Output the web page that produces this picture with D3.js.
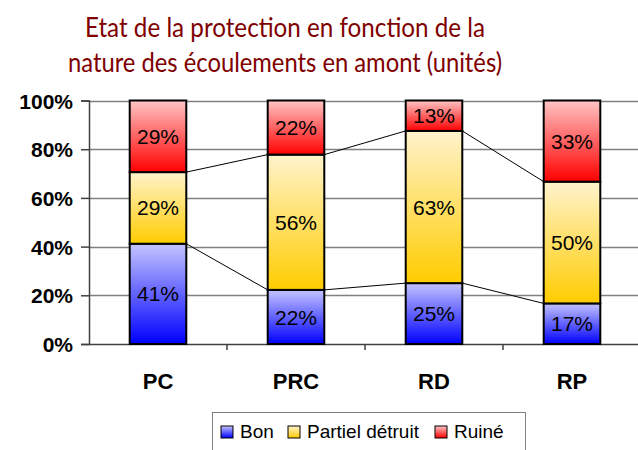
<!DOCTYPE html>
<html>
<head>
<meta charset="utf-8">
<script src="https://cdn.jsdelivr.net/npm/d3@7"></script>
<style>
  body { margin: 0; background: #fff; }
  svg { display: block; font-family: "Liberation Sans", Arial, sans-serif; }
</style>
</head>
<body>
<svg id="chart" width="638" height="450"></svg>
<script>
// data (unités)
var categories = ['PC', 'PRC', 'RD', 'RP'];
var seriesNames = ['Bon', 'Partiel détruit', 'Ruiné'];
var bon = [7, 2, 2, 1];
var partiel = [5, 5, 5, 3];
var ruine = [5, 2, 1, 2];
var yTicks = [0, 0.2, 0.4, 0.6, 0.8, 1];
var titleLines = ['Etat de la protection en fonction de la', 'nature des écoulements en amont (unités)'];

var colors = {
    'Bon': ['#c4c4ff', '#0000ff'],
    'Partiel détruit': ['#fff3cc', '#ffcc00'],
    'Ruiné': ['#ffc4c4', '#ff0000']
};

var rows = categories.map(function (c, i) {
    return { cat: c, 'Bon': bon[i], 'Partiel détruit': partiel[i], 'Ruiné': ruine[i] };
});

var svg = d3.select('#chart');
var margin = { top: 100.5, left: 89, bottom: 344, right: 641 };

var x = d3.scaleBand().domain(categories).range([margin.left, margin.right]);
var y = d3.scaleLinear().domain([0, 1]).range([margin.bottom, margin.top]);
var barW = x.bandwidth() * 0.41;

var stack = d3.stack().keys(seriesNames).offset(d3.stackOffsetExpand);
var layers = stack(rows);

// gradients
var defs = svg.append('defs');
seriesNames.forEach(function (s, i) {
    var g = defs.append('linearGradient')
        .attr('id', 'grad' + i)
        .attr('x1', 0).attr('y1', 0).attr('x2', 0).attr('y2', 1);
    g.append('stop').attr('offset', '0%').attr('stop-color', colors[s][0]);
    g.append('stop').attr('offset', '100%').attr('stop-color', colors[s][1]);
});

// title
svg.append('g').selectAll('text')
    .data(titleLines)
    .enter().append('text')
    .attr('x', 285)
    .attr('y', function (d, i) { return 37 + i * 35; })
    .attr('text-anchor', 'middle')
    .attr('fill', '#800000')
    .style('font-family', 'Lato, "Open Sans", sans-serif')
    .style('font-size', '26px')
    .attr('textLength', function (d, i) { return i === 0 ? 400 : 434; })
    .attr('lengthAdjust', 'spacingAndGlyphs')
    .text(function (d) { return d; });

// gridlines
svg.append('g').selectAll('line')
    .data(yTicks.slice(1))
    .enter().append('line')
    .attr('x1', margin.left).attr('x2', margin.right)
    .attr('y1', function (d) { return Math.round(y(d)) + 0.5; })
    .attr('y2', function (d) { return Math.round(y(d)) + 0.5; })
    .attr('stroke', '#808080')
    .attr('stroke-width', 1.5);

// y axis
var yAxis = svg.append('g')
    .attr('transform', 'translate(' + margin.left + ',0)')
    .call(d3.axisLeft(y).tickValues(yTicks).tickFormat(d3.format('.0%')).tickSize(8).tickPadding(8));
yAxis.select('.domain').attr('stroke', '#404040').attr('stroke-width', 1.5);
yAxis.selectAll('.tick line').attr('stroke', '#404040').attr('stroke-width', 1.5);
yAxis.selectAll('text')
    .style('font-size', '21px')
    .style('font-weight', 'bold')
    .attr('fill', '#000')
    .attr('dy', '0.36em');

// x axis
var xAxis = svg.append('g')
    .attr('transform', 'translate(0,' + margin.bottom + ')')
    .call(d3.axisBottom(x).tickSize(0).tickPadding(29));
xAxis.select('.domain').attr('stroke', '#404040').attr('stroke-width', 1.5);
xAxis.selectAll('text')
    .style('font-size', '22px')
    .style('font-weight', 'bold')
    .attr('fill', '#000');
// category boundary ticks
xAxis.selectAll('.sep')
    .data(categories.slice(1))
    .enter().append('line')
    .attr('class', 'sep')
    .attr('x1', function (d) { return x(d); })
    .attr('x2', function (d) { return x(d); })
    .attr('y1', 0).attr('y2', 6)
    .attr('stroke', '#404040')
    .attr('stroke-width', 1.5);

// series lines between bars
var lines = svg.append('g');
layers.slice(0, 2).forEach(function (layer) {
    for (var i = 0; i < layer.length - 1; i++) {
        lines.append('line')
            .attr('x1', x(categories[i]) + x.bandwidth() / 2 + barW / 2)
            .attr('y1', y(layer[i][1]))
            .attr('x2', x(categories[i + 1]) + x.bandwidth() / 2 - barW / 2)
            .attr('y2', y(layer[i + 1][1]))
            .attr('stroke', '#000')
            .attr('stroke-width', 1);
    }
});

// bars
var groups = svg.append('g').selectAll('g')
    .data(layers)
    .enter().append('g');

groups.selectAll('rect')
    .data(function (d, i) { return d.map(function (p) { p.si = i; return p; }); })
    .enter().append('rect')
    .attr('x', function (d) { return x(d.data.cat) + x.bandwidth() / 2 - barW / 2; })
    .attr('y', function (d) { return y(d[1]); })
    .attr('width', barW)
    .attr('height', function (d) { return y(d[0]) - y(d[1]); })
    .attr('fill', function (d) { return 'url(#grad' + d.si + ')'; })
    .attr('stroke', '#000')
    .attr('stroke-width', 2);

groups.selectAll('text')
    .data(function (d) { return d; })
    .enter().append('text')
    .attr('x', function (d) { return x(d.data.cat) + x.bandwidth() / 2; })
    .attr('y', function (d) { return (y(d[0]) + y(d[1])) / 2; })
    .attr('dy', '0.36em')
    .attr('text-anchor', 'middle')
    .style('font-size', '21px')
    .text(function (d) { return Math.round((d[1] - d[0]) * 100) + '%'; });

// legend
var legend = svg.append('g');
legend.append('rect')
    .attr('x', 212.5).attr('y', 412.5)
    .attr('width', 313).attr('height', 45)
    .attr('fill', '#fff')
    .attr('stroke', '#808080')
    .attr('stroke-width', 1);

var legendX = [221, 288, 435];
var items = legend.selectAll('.item')
    .data(seriesNames)
    .enter().append('g')
    .attr('class', 'item')
    .attr('transform', function (d, i) { return 'translate(' + legendX[i] + ',426)'; });
items.append('rect')
    .attr('width', 12).attr('height', 12)
    .attr('fill', function (d, i) { return 'url(#grad' + i + ')'; })
    .attr('stroke', '#000')
    .attr('stroke-width', 1);
items.append('text')
    .attr('x', 19)
    .attr('y', 12)
    .style('font-size', '19px')
    .text(function (d) { return d; });
</script>
</body>
</html>
